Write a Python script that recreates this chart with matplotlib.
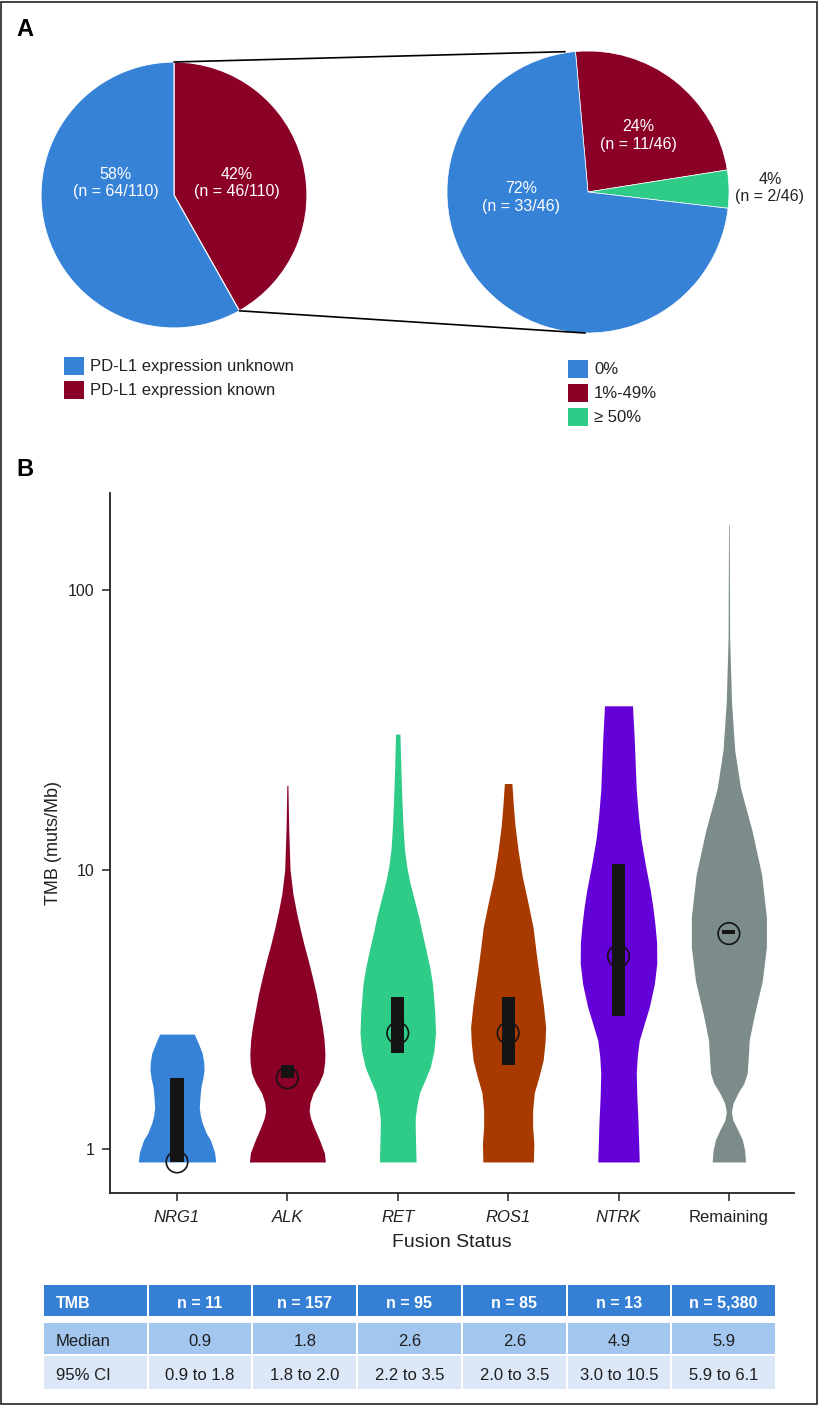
import matplotlib
matplotlib.use("Agg")
from matplotlib import pyplot as plt
from matplotlib.patches import Rectangle, ConnectionPatch
import numpy as np

plt.rcParams['font.family'] = ['Liberation Sans', 'DejaVu Sans']

W, H = 819, 1406

# ---------------- data: panel A ----------------
pdl1_labels = ["PD-L1 expression unknown", "PD-L1 expression known"]
pdl1_counts = [64, 46]
expr_labels = ["0%", "1%-49%", "\u2265 50%"]
expr_counts = [33, 11, 2]

blue = "#3582d6"
red = "#8b0026"
green = "#2fcc87"

# ---------------- data: panel B ----------------
groups = ["NRG1", "ALK", "RET", "ROS1", "NTRK", "Remaining"]
italic = [True, True, True, True, True, False]
group_colors = [blue, red, green, "#a83a00", "#6400d8", "#7b8c8a"]
medians = [0.9, 1.8, 2.6, 2.6, 4.9, 5.9]
ci_low = [0.9, 1.8, 2.2, 2.0, 3.0, 5.9]
ci_high = [1.8, 2.0, 3.5, 3.5, 10.5, 6.1]
n_text = ["n = 11", "n = 157", "n = 95", "n = 85", "n = 13", "n = 5,380"]

# violin outlines: TMB level -> half width (x units)
nrg1_tmb = [0.9, 0.97, 1.02, 1.08, 1.14, 1.24, 1.32, 1.41, 1.53, 1.67, 1.79,
            1.92, 2.05, 2.2, 2.39, 2.58]
nrg1_hw = [0.351, 0.341, 0.324, 0.302, 0.265, 0.229, 0.211, 0.202, 0.208, 0.217,
           0.234, 0.245, 0.242, 0.229, 0.193, 0.157]
alk_tmb = [0.9, 0.97, 1.08, 1.2, 1.29, 1.37, 1.47, 1.59, 1.72, 1.87, 2.05, 2.2,
           2.45, 2.73, 3.1, 3.6, 4.15, 4.75, 5.4, 6.2, 7.1, 8.2, 10, 14, 20]
alk_hw = [0.344, 0.335, 0.290, 0.240, 0.210, 0.197, 0.205, 0.234, 0.285, 0.324,
          0.338, 0.340, 0.333, 0.317, 0.292, 0.261, 0.225, 0.188, 0.150, 0.113,
          0.080, 0.050, 0.024, 0.012, 0.005]
ret_tmb = [0.9, 1.08, 1.22, 1.30, 1.42, 1.59, 1.76, 1.96, 2.25, 2.6, 3.1, 3.92,
           4.5, 5.16, 5.9, 6.77, 7.8, 8.95, 10.2, 11.8, 14.5, 17.7, 23, 30.5]
ret_hw = [0.166, 0.161, 0.158, 0.159, 0.172, 0.197, 0.245, 0.294, 0.328, 0.342,
          0.335, 0.314, 0.288, 0.256, 0.222, 0.190, 0.150, 0.111, 0.082, 0.061,
          0.047, 0.038, 0.028, 0.020]
ros1_tmb = [0.9, 1.05, 1.20, 1.38, 1.59, 1.82, 2.08, 2.4, 2.73, 3.3, 4.13, 5.0,
            6.2, 7.6, 9.4, 11.6, 14.3, 17, 20.3]
ros1_hw = [0.229, 0.233, 0.222, 0.222, 0.237, 0.280, 0.317, 0.334, 0.340, 0.318,
           0.283, 0.255, 0.226, 0.180, 0.129, 0.092, 0.063, 0.047, 0.034]
ntrk_tmb = [0.9, 1.24, 1.55, 1.87, 2.15, 2.45, 2.8, 3.22, 3.9, 4.63, 5.5, 6.43,
            7.4, 8.46, 10.3, 12.8, 15.5, 19.2, 29.0, 38.5]
ntrk_hw = [0.188, 0.177, 0.166, 0.161, 0.170, 0.188, 0.232, 0.279, 0.325, 0.347,
           0.345, 0.329, 0.310, 0.287, 0.245, 0.204, 0.180, 0.161, 0.143, 0.127]
rem_tmb = [0.9, 0.99, 1.08, 1.17, 1.27, 1.36, 1.46, 1.59, 1.72, 1.87, 2.2, 2.45,
           3.0, 3.99, 5.28, 6.76, 9.62, 13.7, 19.5, 26.7, 39.6, 67, 171]
rem_hw = [0.151, 0.143, 0.122, 0.082, 0.036, 0.023, 0.038, 0.083, 0.136, 0.166,
          0.178, 0.184, 0.229, 0.302, 0.340, 0.340, 0.296, 0.211, 0.106, 0.053,
          0.024, 0.007, 0.003]

violin_tmb = [nrg1_tmb, alk_tmb, ret_tmb, ros1_tmb, ntrk_tmb, rem_tmb]
violin_hw = [nrg1_hw, alk_hw, ret_hw, ros1_hw, ntrk_hw, rem_hw]

table_rows = ["Median", "95% CI"]
median_text = ["0.9", "1.8", "2.6", "2.6", "4.9", "5.9"]
ci_text = ["0.9 to 1.8", "1.8 to 2.0", "2.2 to 3.5", "2.0 to 3.5", "3.0 to 10.5", "5.9 to 6.1"]


def px_axes(l, t, w, h):
    # pixel box (from top-left) -> figure axes
    return fig.add_axes([l / W, 1 - (t + h) / H, w / W, h / H])


fig = plt.figure(figsize=(W / 100, H / 100), dpi=100)

# outer frame
fig.add_artist(Rectangle((1 / W, 2 / H), 816 / W, 1402 / H, transform=fig.transFigure,
                         fill=False, edgecolor="#222222", linewidth=1.2))

fig.text(16 / W, 1 - 29 / H, "A", fontsize=17, fontweight="bold", va="center")
fig.text(16 / W, 1 - 469 / H, "B", fontsize=17, fontweight="bold", va="center")

# ---------- left pie ----------
ax1 = px_axes(41, 62, 266, 266)
ax1.pie(pdl1_counts[::-1], colors=[red, blue], startangle=90, counterclock=False,
        wedgeprops=dict(edgecolor="white", linewidth=0.8))
ax1.set_xlim(-1, 1)
ax1.set_ylim(-1, 1)
tot1 = sum(pdl1_counts)
ax1.text(-0.44, 0.09, "%d%%\n(n = %d/%d)" % (round(100 * pdl1_counts[0] / tot1), pdl1_counts[0], tot1),
         color="white", fontsize=11.5, ha="center", va="center")
ax1.text(0.47, 0.09, "%d%%\n(n = %d/%d)" % (round(100 * pdl1_counts[1] / tot1), pdl1_counts[1], tot1),
         color="white", fontsize=11.5, ha="center", va="center")

# ---------- right pie ----------
ax2 = px_axes(447, 51, 282, 282)
tot2 = sum(expr_counts)
ax2.pie([expr_counts[1], expr_counts[2], expr_counts[0]], colors=[red, green, blue],
        startangle=95.1, counterclock=False,
        wedgeprops=dict(edgecolor="white", linewidth=0.5))
ax2.set_xlim(-1, 1)
ax2.set_ylim(-1, 1)
ax2.text(-0.475, -0.04, "%d%%\n(n = %d/%d)" % (round(100 * expr_counts[0] / tot2), expr_counts[0], tot2),
         color="white", fontsize=11.5, ha="center", va="center")
ax2.text(0.355, 0.40, "%d%%\n(n = %d/%d)" % (round(100 * expr_counts[1] / tot2), expr_counts[1], tot2),
         color="white", fontsize=11.5, ha="center", va="center")
ax2.text(1.29, 0.03, "%d%%\n(n = %d/%d)" % (round(100 * expr_counts[2] / tot2), expr_counts[2], tot2),
         color="#222222", fontsize=11.5, ha="center", va="center", clip_on=False)

# zoom connector lines
ang = np.deg2rad(90 - 360 * pdl1_counts[1] / tot1)
for pa, pb in [((0, 1), (-0.163, 0.995)), ((np.cos(ang), np.sin(ang)), (-0.02, -1.0))]:
    con = ConnectionPatch(xyA=pa, coordsA=ax1.transData, xyB=pb, coordsB=ax2.transData,
                          color="black", linewidth=1.2)
    fig.add_artist(con)

# legends of panel A
for k, (lab, c) in enumerate(zip(pdl1_labels, [blue, red])):
    yc = 366 + 24 * k
    fig.add_artist(Rectangle((64 / W, 1 - (yc + 9) / H), 20 / W, 18 / H,
                             transform=fig.transFigure, color=c, lw=0))
    fig.text(90 / W, 1 - yc / H, lab, fontsize=12, va="center", color="#222222")
for k, (lab, c) in enumerate(zip(expr_labels, [blue, red, green])):
    yc = 369 + 24 * k
    fig.add_artist(Rectangle((568 / W, 1 - (yc + 9) / H), 20 / W, 18 / H,
                             transform=fig.transFigure, color=c, lw=0))
    fig.text(594 / W, 1 - yc / H, lab, fontsize=12, va="center", color="#222222")

# ---------- panel B violins ----------
ax = px_axes(110, 493, 684, 700)
xs = np.arange(len(groups))
for i in range(len(groups)):
    t = np.array(violin_tmb[i])
    hw = np.array(violin_hw[i])
    ax.fill_betweenx(t, xs[i] - hw, xs[i] + hw, color=group_colors[i], linewidth=0)

ax.bar(xs, np.array(ci_high) - np.array(ci_low), bottom=ci_low, width=0.118,
       color="#141414", zorder=3)
ax.scatter(xs, medians, s=240, facecolors="none", edgecolors="#141414",
           linewidths=1.2, zorder=4, clip_on=False)

ax.set_yscale("log")
ax.set_ylim(0.697, 222)
ax.set_xlim(-0.607, 5.59)
ax.set_yticks([1, 10, 100])
ax.set_yticklabels(["1", "10", "100"])
ax.minorticks_off()
ax.set_xticks(xs)
ax.set_xticklabels(groups)
for lab, it in zip(ax.get_xticklabels(), italic):
    if it:
        lab.set_style("italic")
ax.tick_params(axis="both", direction="out", length=6, width=1.1,
               colors="#222222", labelcolor="#222222")
ax.tick_params(axis="x", pad=6, labelsize=12)
ax.tick_params(axis="y", pad=5, labelsize=11.5)
for s in ["top", "right"]:
    ax.spines[s].set_visible(False)
for s in ["left", "bottom"]:
    ax.spines[s].set_linewidth(1.3)
    ax.spines[s].set_color("#222222")
ax.set_ylabel("TMB (muts/Mb)", fontsize=13, color="#222222")
ax.yaxis.set_label_coords(-0.07, 0.5)
ax.set_xlabel("Fusion Status", fontsize=14, color="#222222")
ax.xaxis.set_label_coords(0.5, -0.058)

# ---------- table ----------
tax = px_axes(43, 1285, 733, 104)
tax.set_xlim(0, 7)
tax.set_ylim(104, 0)
tax.axis("off")
row_top = [0, 38, 71]
row_h = [31, 31, 33]
row_col = ["#3580d5", "#a3c6ef", "#dce7f7"]
row_first = ["TMB"] + table_rows
row_cells = [n_text, median_text, ci_text]
for r in range(3):
    for c in range(7):
        tax.add_patch(Rectangle((c + 0.01, row_top[r]), 0.98, row_h[r], color=row_col[r], lw=0))
    yc = row_top[r] + row_h[r] / 2 + 1
    hdr = r == 0
    col = "white" if hdr else "#1e1e1e"
    fw = "bold" if hdr else "normal"
    fs = 11.5 if hdr else 12
    tax.text(0.125, yc, row_first[r], ha="left", va="center_baseline", fontsize=fs,
             color=col, fontweight=fw)
    for c, txt in enumerate(row_cells[r]):
        tax.text(c + 1.5, yc, txt, ha="center", va="center_baseline", fontsize=fs,
                 color=col, fontweight=fw)

fig.savefig("out.png", dpi=100)
